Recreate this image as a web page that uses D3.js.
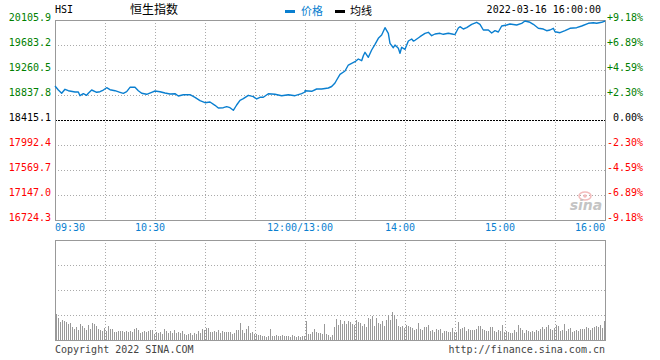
<!DOCTYPE html>
<html><head><meta charset="utf-8">
<script src="https://cdn.jsdelivr.net/npm/d3@7"></script>
<style>
html,body{margin:0;padding:0;background:#fff;}
svg{display:block;}
text{font-family:"DejaVu Sans Mono",monospace;}
</style></head>
<body><svg id="c" width="660" height="360"></svg>
<script>
const prevClose = 18415.1;
const leftTicks = [20105.9, 19683.2, 19260.5, 18837.8, 18415.1, 17992.4, 17569.7, 17147.0, 16724.3];
const rightTicks = ["+9.18%", "+6.89%", "+4.59%", "+2.30%", "0.00%", "-2.30%", "-4.59%", "-6.89%", "-9.18%"];
const xTickLabels = ["09:30", "10:30", "12:00/13:00", "14:00", "15:00", "16:00"];
const times = ["09:30","09:32","09:34","09:36","09:38","09:42","09:44","09:45","09:47","09:49","09:50","09:52","09:55","09:57","09:59",
"10:01","10:03","10:06","10:09","10:11","10:13","10:15","10:18","10:20","10:22","10:25","10:28","10:30","10:33","10:36","10:39","10:42","10:44","10:47","10:51","10:54","10:57",
"11:00","11:03","11:06","11:08","11:11","11:13","11:15","11:17","11:19","11:21","11:23","11:26","11:29","11:31","11:33","11:35","11:38","11:42","11:46","11:50","11:54","11:58","12:00",
"13:00","13:04","13:07","13:10","13:14","13:16","13:18","13:19","13:21","13:24","13:26","13:28","13:30","13:32","13:34","13:35","13:36","13:38","13:40","13:42","13:44","13:46","13:48","13:50","13:51","13:53","13:54","13:56","13:57","13:58",
"14:00","14:02","14:04","14:05","14:06","14:09","14:12","14:14","14:16","14:18","14:21","14:23","14:26","14:29","14:30","14:32","14:33","14:35","14:37","14:40","14:43","14:45","14:47","14:50","14:52","14:54","14:56","14:58",
"15:01","15:03","15:07","15:10","15:12","15:15","15:17","15:20","15:23","15:25","15:27","15:29","15:30","15:33","15:36","15:39","15:43","15:46","15:50","15:53","15:55","15:58","16:00"];
const prices = [18990.0,18922.3,18866.5,18934.2,18910.5,18888.5,18888.5,18826.0,18859.8,18832.7,18866.5,18922.3,18883.5,18893.6,18922.3,
18961.2,18927.4,18910.5,18883.5,18866.5,18893.6,18968.0,18968.0,18910.5,18866.5,18849.6,18883.5,18905.4,18893.6,18871.6,18854.7,18859.8,18820.9,18842.9,18842.9,18798.9,18741.4,
18707.6,18719.4,18663.6,18618.0,18623.1,18640.0,18623.1,18579.1,18668.7,18748.2,18775.2,18832.7,18809.1,18770.2,18798.9,18798.9,18859.8,18849.6,18826.0,18842.9,18826.0,18859.8,18888.5,
18910.5,18900.4,18939.2,18939.2,18956.2,18981.5,19040.7,19091.4,19187.8,19243.6,19345.0,19373.8,19400.8,19446.5,19417.7,19502.3,19559.8,19475.2,19598.7,19695.0,19796.5,19852.3,19975.7,19881.0,19711.9,19637.5,19683.2,19627.4,19542.9,19644.3,
19610.5,19750.8,19784.6,19750.8,19762.7,19823.5,19881.0,19897.9,19840.4,19869.2,19881.0,19864.1,19881.0,19864.1,19860.7,19970.6,19992.6,19953.7,19975.7,20033.2,20067.0,20033.2,19936.8,19936.8,19886.1,19925.0,19903.0,20004.5,
20021.4,20038.3,20021.4,20050.1,20089.0,20067.0,20033.2,19965.6,19953.7,19925.0,19936.8,19965.6,19908.1,19891.2,19925.0,19965.6,19975.7,20004.5,20050.1,20060.3,20050.1,20067.0,20089.0];
const volumes = [
26,22,18,20,19,18,16,17,13,11,13,10,16,14,12,10,15,11,17,16,14,11,10,9,12,
9,14,11,11,8,8,9,9,9,8,9,8,9,8,11,12,10,7,8,9,8,9,10,10,6,
8,7,8,6,11,9,7,9,7,10,7,8,7,9,6,5,6,7,5,7,6,9,7,11,10,
12,12,8,8,9,8,10,7,9,8,8,8,8,6,7,10,10,17,10,7,11,14,7,8,6,
6,5,5,4,4,3,4,11,4,4,5,4,4,5,4,4,4,3,5,4,3,4,3,4,4,
19,6,6,8,11,8,7,7,6,16,6,5,3,5,13,21,15,20,16,19,16,19,18,16,15,
20,18,17,14,16,13,22,21,24,14,22,17,16,19,14,20,25,20,28,25,21,14,13,14,12,
15,14,13,12,10,11,17,11,10,13,13,15,9,10,8,11,10,11,7,9,9,8,8,12,8,
8,18,11,12,13,9,11,10,10,10,11,14,14,11,10,9,9,13,13,9,8,10,9,15,8,
9,8,7,7,10,8,15,12,10,7,10,9,8,9,8,10,9,11,13,11,13,15,11,10,12,
15,14,9,10,16,9,11,12,8,9,10,9,11,11,11,13,12,10,12,13,14,13,15,12,19];

function tradeMinute(s) {
  const [h, m] = s.split("/")[0].split(":").map(Number);
  const t = h * 60 + m;
  return t <= 720 ? t - 570 : t - 780 + 150;
}

const svg = d3.select("#c");
const L = 55, R = 605, T = 20, B = 220, VT = 240, VB = 340;
const x = d3.scaleLinear().domain([0, 330]).range([L, R]);
const y = d3.scaleLinear().domain([leftTicks[8], leftTicks[0]]).range([B, T]);
const yv = d3.scaleLinear().domain([0, 100]).range([VB, VT]);
const xb = d3.scaleLinear().domain([0, volumes.length]).range([L, R]);

const gridColor = "#aaaaaa";
// main grid
const g = svg.append("g");
g.selectAll("line.hg").data(leftTicks.slice(1, 8)).join("line")
  .attr("x1", L).attr("x2", R)
  .attr("y1", d => Math.round(y(d)) + 0.5).attr("y2", d => Math.round(y(d)) + 0.5)
  .attr("stroke", d => d === prevClose ? "#000" : gridColor)
  .attr("stroke-dasharray", d => d === prevClose ? "2,1" : "1,2");
const vgrid = d3.range(30, 330, 30);
g.selectAll("line.vg").data(vgrid).join("line")
  .attr("x1", d => Math.round(x(d)) + 0.5).attr("x2", d => Math.round(x(d)) + 0.5)
  .attr("y1", T).attr("y2", B)
  .attr("stroke", gridColor).attr("stroke-dasharray", "1,2");
svg.append("rect").attr("x", L + 0.5).attr("y", T + 0.5).attr("width", R - L).attr("height", B - T)
  .attr("fill", "none").attr("stroke", "#999");

// volume grid
const vg = svg.append("g");
vg.selectAll("line").data([25, 50, 75]).join("line")
  .attr("x1", L).attr("x2", R)
  .attr("y1", d => Math.round(yv(d)) + 0.5).attr("y2", d => Math.round(yv(d)) + 0.5)
  .attr("stroke", gridColor).attr("stroke-dasharray", "1,2");
vg.selectAll("line.v").data(vgrid).join("line").attr("class", "v")
  .attr("x1", d => Math.round(x(d)) + 0.5).attr("x2", d => Math.round(x(d)) + 0.5)
  .attr("y1", VT).attr("y2", VB)
  .attr("stroke", gridColor).attr("stroke-dasharray", "1,2");
// volume bars
svg.append("g").selectAll("rect").data(volumes).join("rect")
  .attr("x", (d, i) => Math.round(xb(i)) + 1)
  .attr("width", 1)
  .attr("y", d => yv(d))
  .attr("height", d => VB - yv(d))
  .attr("fill", "#999")
  .attr("shape-rendering", "crispEdges");
svg.append("rect").attr("x", L + 0.5).attr("y", VT + 0.5).attr("width", R - L).attr("height", VB - VT)
  .attr("fill", "none").attr("stroke", "#999");

// sina watermark
const wm = svg.append("g");
wm.append("ellipse").attr("cx", 585).attr("cy", 196).attr("rx", 6).attr("ry", 4)
  .attr("fill", "none").attr("stroke", "#f2bcbc").attr("stroke-width", 1.5);
wm.append("circle").attr("cx", 585).attr("cy", 196).attr("r", 1.8).attr("fill", "#f2bcbc");
wm.append("text").attr("x", 586).attr("y", 210).attr("text-anchor", "middle")
  .style("font-family", "'DejaVu Sans', sans-serif").style("font-style", "italic").style("font-weight", "bold")
  .style("font-size", "14px").attr("fill", "#c4c4c4").text("sina");

// price line
const pts = times.map((t, i) => [tradeMinute(t), prices[i]]);
svg.append("path").datum(pts)
  .attr("d", d3.line().x(d => x(d[0])).y(d => y(d[1])))
  .attr("fill", "none").attr("stroke", "#0a7fd0").attr("stroke-width", 1.4)
  .attr("stroke-linejoin", "round");

// left labels
const colorFor = i => i < 4 ? "#008000" : (i === 4 ? "#000" : "#ff0000");
svg.append("g").selectAll("text").data(leftTicks).join("text")
  .attr("x", 51).attr("y", d => y(d) + 0.5).attr("text-anchor", "end")
  .style("font-size", "10px").attr("fill", (d, i) => colorFor(i))
  .text(d => d.toFixed(1));
svg.append("g").selectAll("text").data(rightTicks).join("text")
  .attr("x", (d, i) => i === 4 ? 613 : 607).attr("y", (d, i) => y(leftTicks[i]) + 0.5)
  .style("font-size", "10px").attr("fill", (d, i) => colorFor(i))
  .text(d => d);

// x labels
svg.append("g").selectAll("text").data(xTickLabels).join("text")
  .attr("x", (d, i) => i === 0 ? L : (i === xTickLabels.length - 1 ? R : x(tradeMinute(d)) - 5))
  .attr("y", 230.5)
  .attr("text-anchor", (d, i) => i === 0 ? "start" : (i === xTickLabels.length - 1 ? "end" : "middle"))
  .style("font-size", "10px").attr("fill", "#0a7fd0").text(d => d);

// header
svg.append("text").attr("x", L).attr("y", 12.5).style("font-size", "10px").attr("fill", "#000").text("HSI");
svg.append("text").attr("x", 154).attr("y", 14).attr("text-anchor", "middle")
  .style("font-family", "'Noto Sans CJK SC', sans-serif").style("font-size", "12px").attr("fill", "#000").text("恒生指数");
svg.append("rect").attr("x", 285).attr("y", 10).attr("width", 10).attr("height", 3).attr("fill", "#0a7fd0");
svg.append("text").attr("x", 301).attr("y", 14.5)
  .style("font-family", "'Noto Sans CJK SC', sans-serif").style("font-size", "11px").attr("fill", "#0a7fd0").text("价格");
svg.append("rect").attr("x", 335).attr("y", 10).attr("width", 10).attr("height", 3).attr("fill", "#000");
svg.append("text").attr("x", 350).attr("y", 14.5)
  .style("font-family", "'Noto Sans CJK SC', sans-serif").style("font-size", "11px").attr("fill", "#000").text("均线");
svg.append("text").attr("x", 601).attr("y", 12.5).attr("text-anchor", "end")
  .style("font-size", "10px").attr("fill", "#000").text("2022-03-16 16:00:00");

// footer
svg.append("text").attr("x", L).attr("y", 353).style("font-size", "10px").attr("fill", "#444").text("Copyright 2022 SINA.COM");
svg.append("text").attr("x", R).attr("y", 353).attr("text-anchor", "end").style("font-size", "10px").attr("fill", "#444").text("http://finance.sina.com.cn");
</script></body></html>
